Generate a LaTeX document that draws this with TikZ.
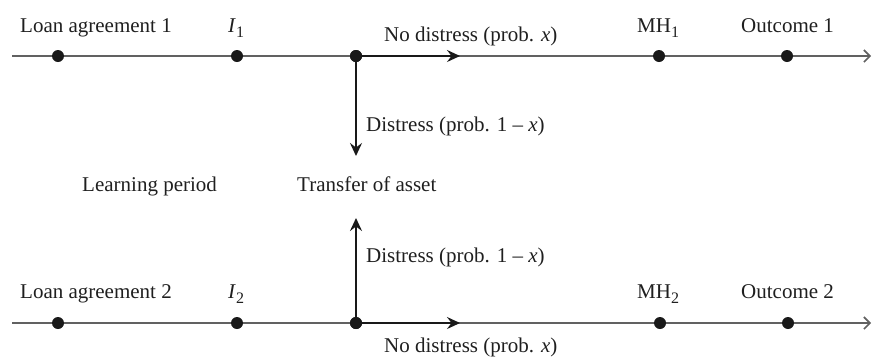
\documentclass[tikz,border=0pt]{standalone}
\usepackage{fontspec}
\setmainfont{Liberation Serif}
\usetikzlibrary{arrows.meta}

\newcommand{\lowsub}[1]{\raisebox{-5pt}{\fontsize{16}{16}\selectfont #1}}

\begin{document}
\begin{tikzpicture}[x=1pt,y=-1pt,
    font=\fontsize{21}{25}\selectfont,
    timeline/.style={draw=black!62, line width=2.2pt, -{Straight Barb[length=6pt,width=12pt,line width=1.6pt]}},
    branch/.style={draw=black!90, line width=2.6pt, -{Stealth[length=13pt,width=12pt,inset=4.5pt]}},
    event/.style={circle, fill=black!90, inner sep=0pt, minimum size=12pt},
    lbl/.style={anchor=base west, inner sep=0pt, text=black!88}]

  \useasboundingbox (0,0) rectangle (872,357);

  % ---------- upper timeline ----------
  \coordinate (s1) at (12,56);
  \coordinate (e1) at (871,56);
  \draw[timeline] (s1) -- (e1);
  \coordinate (nd1) at (460,56);
  \coordinate (dd1) at (356,156);

  \node[event] (la1) at (58,56) {};
  \node[event] (i1)  at (237,56) {};
  \node[event] (b1)  at (356,56) {};
  \node[event] (mh1) at (659,56) {};
  \node[event] (o1)  at (787,56) {};

  \draw[branch] (b1.center) -- (nd1);
  \draw[branch] (b1.center) -- (dd1);
  \node[event] at (b1) {};

  \node[lbl] (tla1) at (20,32) {Loan agreement 1};
  \node[lbl] (ti1)  at (228,32) {\textit{I}\lowsub{1}};
  \node[lbl] (tnd1) at (384,41) {No distress (prob. \textit{x})};
  \node[lbl] (tmh1) at (637,32) {MH\lowsub{1}};
  \node[lbl] (to1)  at (741,32) {Outcome 1};
  \node[lbl] (tdd1) at (366,131) {Distress (prob. 1 \textendash{} \textit{x})};

  % ---------- middle labels ----------
  \node[lbl] (learn) at (82,191) {Learning period};
  \node[lbl] (trans) at (297,191) {Transfer of asset};

  % ---------- lower timeline ----------
  \coordinate (s2) at (12,323);
  \coordinate (e2) at (871,323);
  \draw[timeline] (s2) -- (e2);
  \coordinate (nd2) at (460,323);
  \coordinate (dd2) at (356,218);

  \node[event] (la2) at (58,323) {};
  \node[event] (i2)  at (237,323) {};
  \node[event] (b2)  at (356,323) {};
  \node[event] (mh2) at (660,323) {};
  \node[event] (o2)  at (788,323) {};

  \draw[branch] (b2.center) -- (nd2);
  \draw[branch] (b2.center) -- (dd2);
  \node[event] at (b2) {};

  \node[lbl] (tla2) at (20,298) {Loan agreement 2};
  \node[lbl] (ti2)  at (228,298) {\textit{I}\lowsub{2}};
  \node[lbl] (tdd2) at (366,262) {Distress (prob. 1 \textendash{} \textit{x})};
  \node[lbl] (tmh2) at (637,298) {MH\lowsub{2}};
  \node[lbl] (to2)  at (741,298) {Outcome 2};
  \node[lbl] (tnd2) at (384,352) {No distress (prob. \textit{x})};
\end{tikzpicture}
\end{document}
